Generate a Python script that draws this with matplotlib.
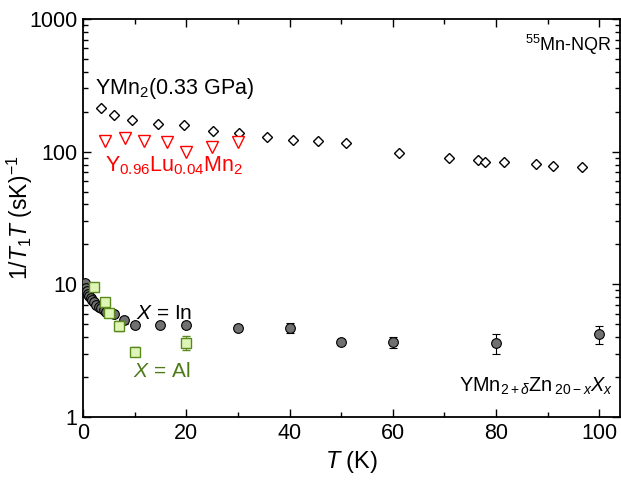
import numpy as np
from matplotlib import pyplot as plt
from matplotlib.ticker import MultipleLocator

plt.rcParams['font.family'] = ['Liberation Sans', 'DejaVu Sans']
plt.rcParams['mathtext.fontset'] = 'custom'
plt.rcParams['mathtext.rm'] = 'Liberation Sans'
plt.rcParams['mathtext.it'] = 'Liberation Sans:italic'

# YMn2 under 0.33 GPa
T_press = [3.4, 6.0, 9.4, 14.6, 19.6, 25.1, 30.2, 35.6, 40.7, 45.5, 50.9,
           61.1, 70.9, 76.4, 77.9, 81.5, 87.7, 91.0, 96.6]
v_press = [212, 189, 173, 161, 159, 143, 139, 128, 122, 121, 116,
           98, 89, 86, 83, 83, 81, 78, 76]

# Y0.96Lu0.04Mn2
T_lu = [4.2, 8.2, 11.8, 16.2, 20.0, 25.0, 30.0]
v_lu = [120, 126, 121, 118, 99, 109, 119]

# X = In
T_in = [0.3, 0.5, 0.8, 1.0, 1.2, 1.5, 1.8, 2.2, 2.6, 3.0, 3.5, 4.0, 4.5,
        6.0, 8.0, 10, 15, 20, 30, 40, 50, 60, 80, 100]
v_in = [10.2, 9.4, 8.9, 8.5, 8.2, 7.9, 7.6, 7.3, 7.0, 6.8, 6.6, 6.4, 6.2,
        6.0, 5.35, 4.95, 4.95, 4.95, 4.72, 4.72, 3.7, 3.65, 3.6, 4.2]
e_in = [0.3, 0.3, 0.3, 0.3, 0.3, 0.3, 0.3, 0.3, 0.3, 0.3, 0.3, 0.3, 0.3,
        0.3, 0.3, 0.25, 0.2, 0.25, 0.2, 0.4, 0.2, 0.35, 0.6, 0.65]

# X = Al
T_al = [2.1, 4.2, 5.0, 7.0, 10.0, 19.9]
v_al = [9.6, 7.4, 6.1, 4.86, 3.11, 3.64]
e_al = [0.4, 0.3, 0.3, 0.4, 0.25, 0.45]

fig = plt.figure(figsize=(6.21, 4.84), dpi=100)
ax = fig.add_axes([0.1337, 0.1384, 0.8647, 0.8223])

ax.plot(T_press, v_press, 'D', ms=5.2, mfc='white', mec='black', mew=1.0, zorder=3)
ax.plot(T_lu, v_lu, 'v', ms=8, mfc='white', mec='red', mew=1.0, zorder=3)
ax.errorbar(T_in, v_in, yerr=e_in, fmt='o', ms=7, mfc='#707070', mec='black',
            mew=0.8, ecolor='black', elinewidth=0.8, capsize=3, zorder=4)
ax.errorbar(T_al, v_al, yerr=e_al, fmt='s', ms=7, mfc='#dff5b8', mec='#5a8a1e',
            mew=1.0, ecolor='#5a8a1e', elinewidth=0.8, capsize=3, zorder=5)

ax.set_yscale('log')
ax.set_xlim(0, 104)
ax.set_ylim(1, 1000)
ax.xaxis.set_major_locator(MultipleLocator(20))
ax.xaxis.set_minor_locator(MultipleLocator(10))
ax.set_yticks([1, 10, 100, 1000])
ax.set_yticklabels(['1', '10', '100', '1000'])
ax.tick_params(which='both', direction='in', top=True, right=True, labelsize=15.5, width=1.0)
ax.tick_params(which='major', length=6, pad=4)
ax.tick_params(which='minor', length=3.5)
for s in ax.spines.values():
    s.set_linewidth(1.3)

ax.set_xlabel('$T$ (K)', fontsize=17, labelpad=4)
ax.set_ylabel('1/$T_1T$ (sK)$^{\\mathdefault{-1}}$', fontsize=16.5)
ax.yaxis.set_label_coords(-0.09, 0.5)

ax.text(0.985, 0.965, '$^{55}$Mn-NQR', transform=ax.transAxes, ha='right', va='top', fontsize=13)
ax.text(2.3, 240, 'YMn$_2$(0.33 GPa)', fontsize=15.5, ha='left', va='bottom')
ax.text(4.3, 78, 'Y$_{0.96}$Lu$_{0.04}$Mn$_2$', fontsize=15.5, color='red', ha='left', va='center')
ax.text(10.3, 6.0, '$X$ = In', fontsize=15, ha='left', va='center')
ax.text(9.7, 2.2, '$X$ = Al', fontsize=15, color='#4f7a1a', ha='left', va='center')
ax.text(102.8, 1.7, 'YMn$_{2+\\delta}$Zn$\\,_{\\mathdefault{20-}x}$$X_x$', fontsize=14.3,
        ha='right', va='center')

fig.savefig('out.png', dpi=100)
